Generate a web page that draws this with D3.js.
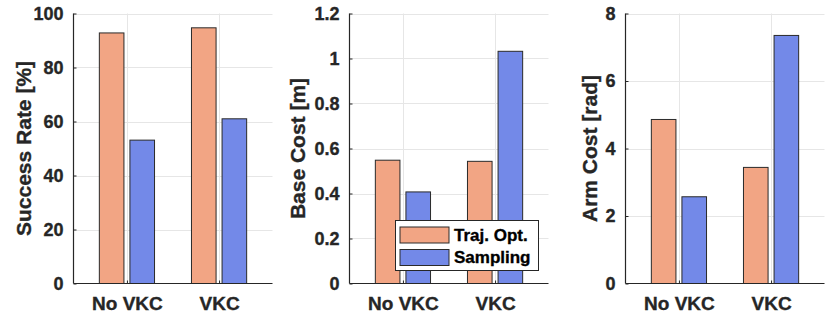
<!DOCTYPE html>
<html><head><meta charset="utf-8">
<script src="https://cdn.jsdelivr.net/npm/d3@7"></script>
<style>body{margin:0;background:#fff}svg{display:block}text{font-family:"Liberation Sans",Arial,sans-serif;font-weight:bold;stroke-width:0.35px;paint-order:fill}</style>
</head><body><svg id="c" width="830" height="320"></svg>
<script>
const categories = ["No VKC", "VKC"];
const seriesNames = ["Traj. Opt.", "Sampling"];
const successRate = [[92.8, 53.1], [94.7, 61.0]];
const baseCost = [[0.548, 0.407], [0.543, 1.032]];
const armCost = [[4.86, 2.57], [3.44, 7.35]];
const ticks1 = [0, 20, 40, 60, 80, 100];
const ticks2 = [0, 0.2, 0.4, 0.6, 0.8, 1, 1.2];
const ticks3 = [0, 2, 4, 6, 8];
const colors = ["#F2A584", "#7389E8"];

const svg = d3.select("#c");
const panels = [
  {left: 73.5, data: successRate, ticks: ticks1, max: 100, label: "Success Rate [%]", labelX: 31},
  {left: 349.5, data: baseCost, ticks: ticks2, max: 1.2, label: "Base Cost [m]", labelX: 305},
  {left: 625.5, data: armCost, ticks: ticks3, max: 8, label: "Arm Cost [rad]", labelX: 597}
];
const plotTop = 13.5, plotBottom = 283.5, plotW = 199;
const ink = "#262626";

panels.forEach((p, pi) => {
  const g = svg.append("g");
  const x = d3.scaleLinear().domain([0.42, 2.58]).range([p.left, p.left + plotW]);
  const y = d3.scaleLinear().domain([0, p.max]).range([plotBottom, plotTop]);
  // grid
  g.selectAll(".gy").data(p.ticks.filter(t => t > 0)).enter().append("line")
    .attr("x1", p.left).attr("x2", p.left + plotW)
    .attr("y1", d => Math.round(y(d)) + 0.5).attr("y2", d => Math.round(y(d)) + 0.5)
    .attr("stroke", "#e6e6e6").attr("stroke-width", 1);
  g.selectAll(".gx").data([1, 2]).enter().append("line")
    .attr("x1", d => Math.round(x(d)) + 0.5).attr("x2", d => Math.round(x(d)) + 0.5)
    .attr("y1", plotTop).attr("y2", plotBottom)
    .attr("stroke", "#e6e6e6").attr("stroke-width", 1);
  // bars
  const bw = 0.267, off = 0.166;
  p.data.forEach((vals, ci) => {
    vals.forEach((v, si) => {
      const cx = ci + 1 + (si === 0 ? -off : off);
      g.append("rect")
        .attr("x", x(cx - bw / 2)).attr("width", x(cx + bw / 2) - x(cx - bw / 2))
        .attr("y", y(v)).attr("height", y(0) - y(v))
        .attr("fill", colors[si]).attr("stroke", "#2a2a2a").attr("stroke-width", 1);
    });
  });
  // axes
  const ya = d3.axisLeft(y).tickValues(p.ticks).tickSize(-3).tickPadding(10)
    .tickFormat(d => d3.format("~g")(d));
  const yg = g.append("g").attr("transform", `translate(${p.left},0)`).call(ya);
  const xa = d3.axisBottom(x).tickValues([1, 2]).tickSize(-3).tickPadding(13)
    .tickFormat((d, i) => categories[i]);
  const xg = g.append("g").attr("transform", `translate(0,${plotBottom})`).call(xa);
  [yg, xg].forEach(a => {
    a.select(".domain").attr("stroke", ink).attr("stroke-width", 1.2);
    a.selectAll(".tick line").attr("stroke", ink);
    a.selectAll("text").attr("fill", ink).attr("stroke", ink)
      .style("font-family", '"Liberation Sans",Arial,sans-serif').style("font-weight", "bold");
  });
  yg.selectAll("text").style("font-size", "18px");
  xg.selectAll("text").style("font-size", "19px");
  xg.select(".domain").attr("d", `M${p.left},0H${p.left + plotW}`);
  yg.select(".domain").attr("d", `M0,${plotBottom}V${plotTop}`);
  // y label
  g.append("text").attr("transform", `translate(${p.labelX},${(plotTop + plotBottom) / 2}) rotate(-90)`)
    .attr("text-anchor", "middle")
    .attr("fill", ink).attr("stroke", ink).style("font-size", "21px").text(p.label);
});

// legend
const lg = svg.append("g");
lg.append("rect").attr("x", 395.5).attr("y", 220.5).attr("width", 143).attr("height", 50)
  .attr("fill", "#fff").attr("stroke", "#262626").attr("stroke-width", 1);
seriesNames.forEach((s, i) => {
  lg.append("rect").attr("x", 400).attr("y", 227 + i * 22.5).attr("width", 49).attr("height", 16)
    .attr("fill", colors[i]).attr("stroke", "#2a2a2a");
  lg.append("text").attr("x", 454).attr("y", 235 + i * 22.5).attr("dominant-baseline", "central")
    .attr("fill", "#000").attr("stroke", "#000").style("font-size", "17px").text(s);
});
</script></body></html>
